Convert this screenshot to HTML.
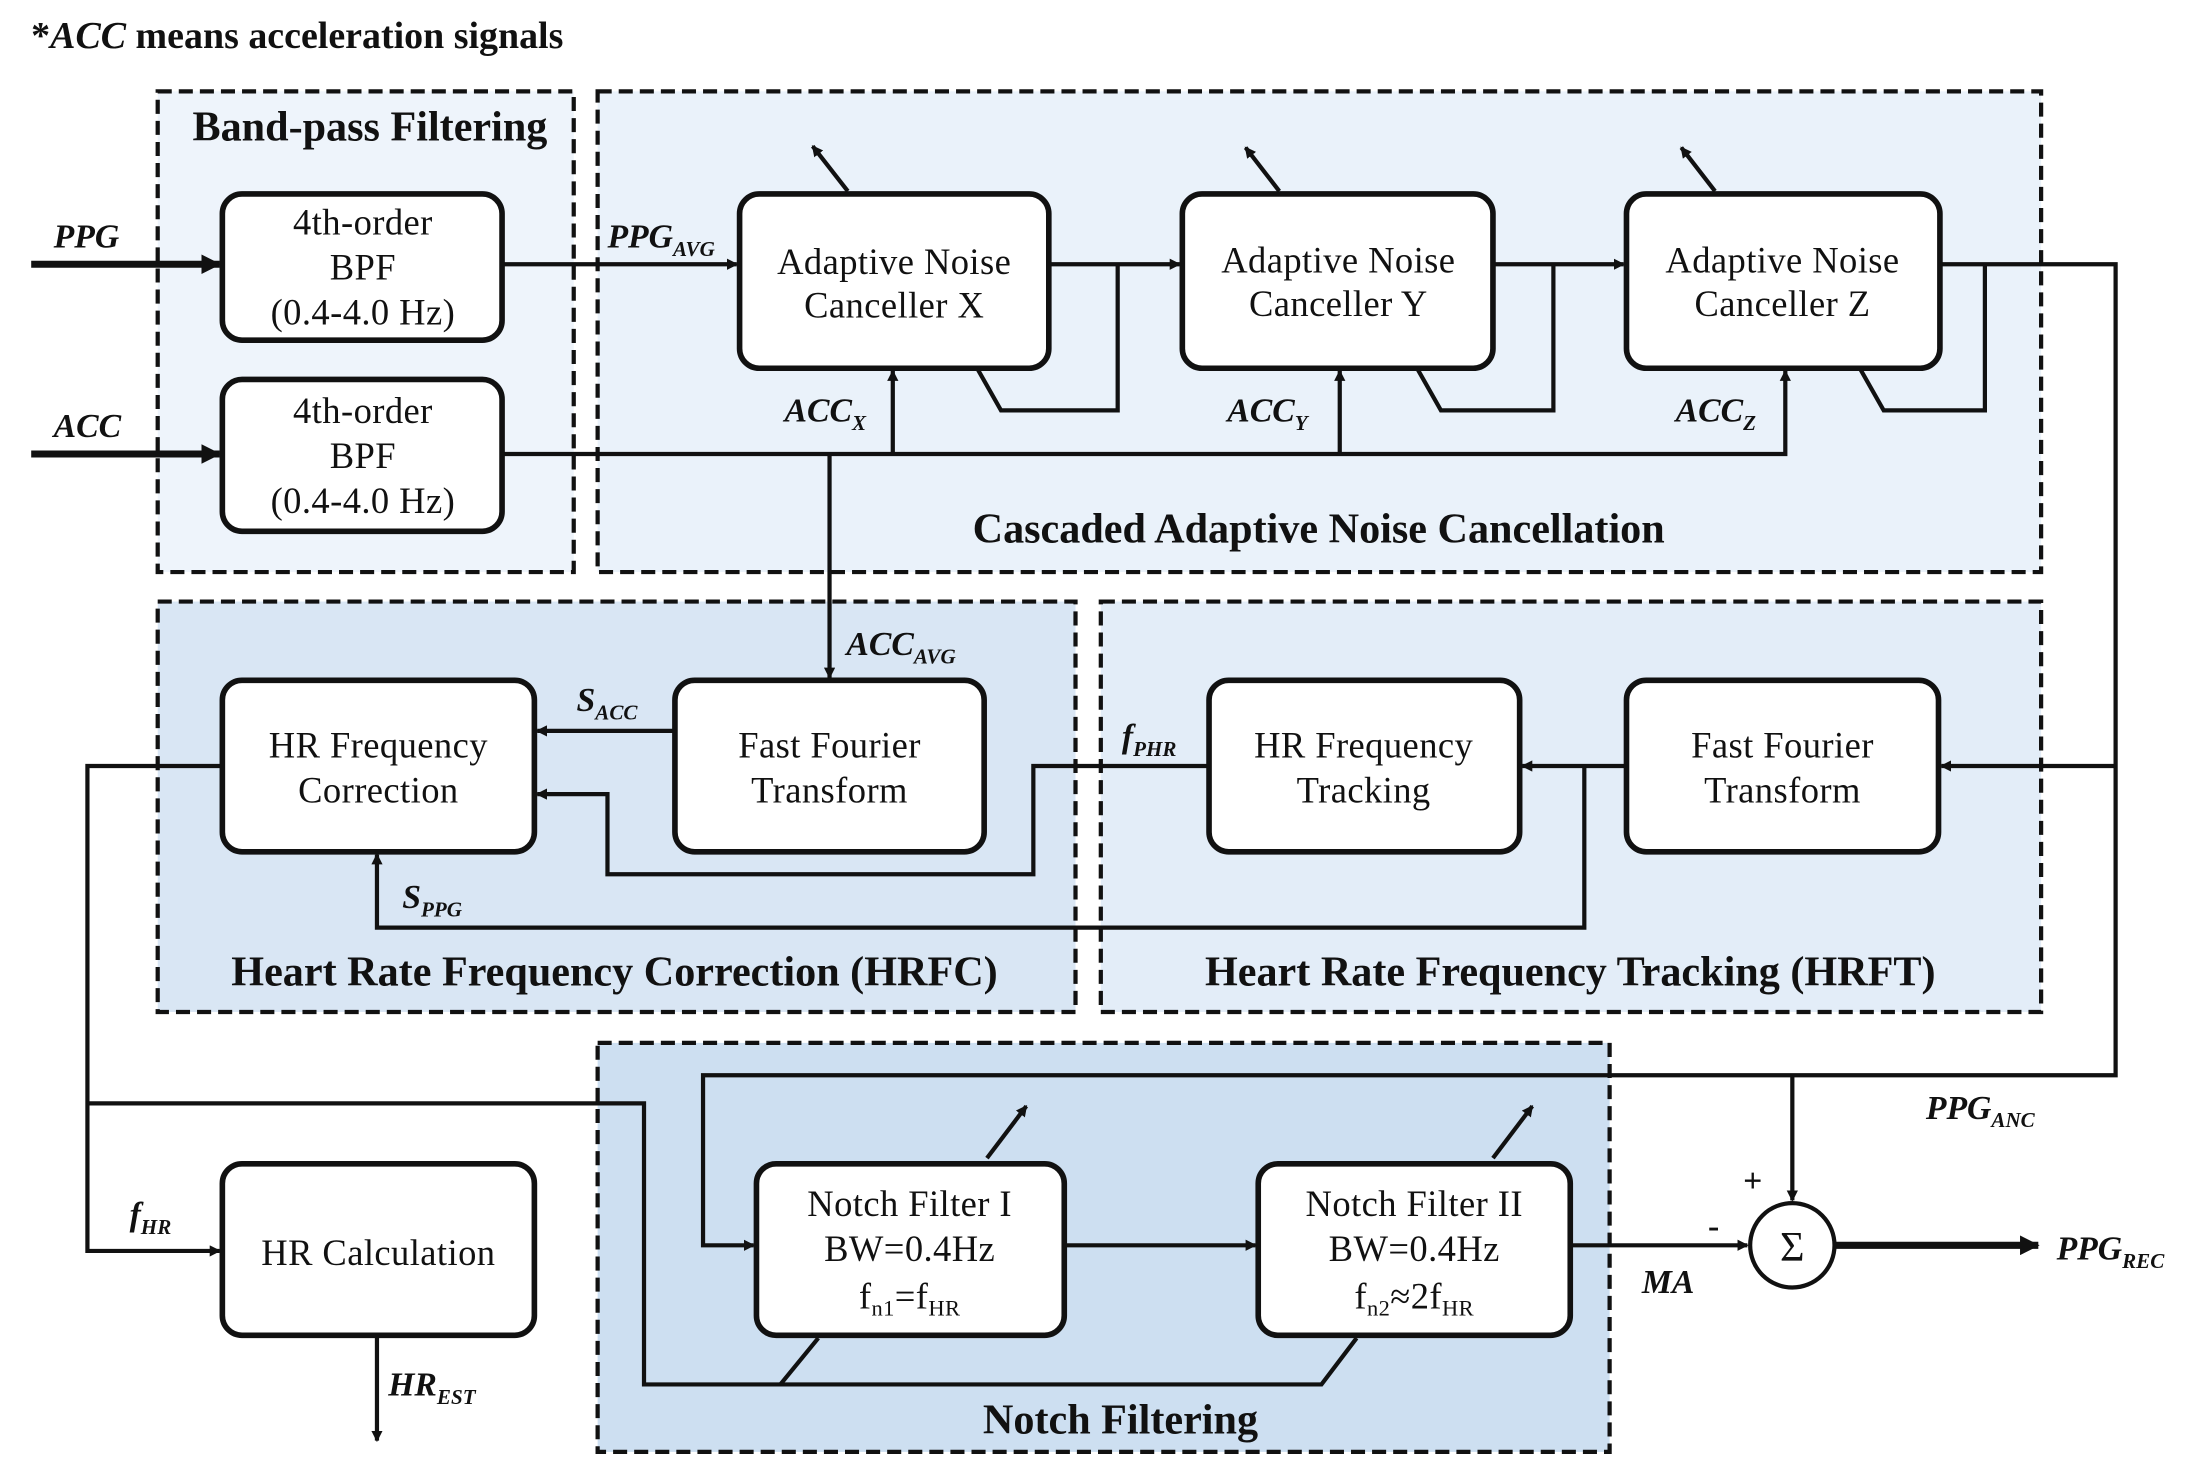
<!DOCTYPE html>
<html><head><meta charset="utf-8"><style>
html,body{margin:0;padding:0;background:#fff;}
svg{display:block;}
text{font-family:"Liberation Serif",serif;fill:#111;}
.b{font-weight:bold;}
.t{font-size:26px;fill:#333;letter-spacing:0.3px;}
.lab{font-weight:bold;font-style:italic;font-size:24px;}
.sub{font-size:15px;}
.t .sub{font-size:16px;}
</style></head><body>
<svg width="2196" height="1473" viewBox="0 0 1562 1048" xmlns="http://www.w3.org/2000/svg">
<defs>
<marker id="a" markerWidth="8" markerHeight="8" refX="7" refY="4" orient="auto" markerUnits="userSpaceOnUse" viewBox="0 0 8 8"><path d="M0,0 L8,4 L0,8 z" fill="#111"/></marker>
<marker id="A" markerWidth="14" markerHeight="14" refX="13" refY="7" orient="auto" markerUnits="userSpaceOnUse" viewBox="0 0 14 14"><path d="M0,0 L14,7 L0,14 z" fill="#111"/></marker>
</defs>
<style>.ln{stroke:#111;stroke-width:3;fill:none}.bx{stroke:#111;stroke-width:4;fill:#fff}.dz{stroke:#111;stroke-width:3;stroke-dasharray:10,5}</style>
<text x="22" y="34" class="b" style="font-size:27px">*<tspan font-style="italic">ACC</tspan> means acceleration signals</text>
<rect x="112" y="65" width="296" height="342" fill="#eef4fb" class="dz"/>
<rect x="425" y="65" width="1027" height="342" fill="#eaf2fa" class="dz"/>
<rect x="112" y="428" width="653" height="292" fill="#d9e6f4" class="dz"/>
<rect x="783" y="428" width="669" height="292" fill="#e3edf8" class="dz"/>
<rect x="425" y="742" width="720" height="291" fill="#cddff1" class="dz"/>
<text x="263" y="100" text-anchor="middle" class="b" style="font-size:30px">Band-pass Filtering</text>
<text x="938" y="386" text-anchor="middle" class="b" style="font-size:30px">Cascaded Adaptive Noise Cancellation</text>
<text x="437" y="701" text-anchor="middle" class="b" style="font-size:30px">Heart Rate Frequency Correction (HRFC)</text>
<text x="1117" y="701" text-anchor="middle" class="b" style="font-size:30px">Heart Rate Frequency Tracking (HRFT)</text>
<text x="797" y="1020" text-anchor="middle" class="b" style="font-size:30px">Notch Filtering</text>
<g class="ln">
<line x1="22" y1="188" x2="156" y2="188" stroke-width="5" marker-end="url(#A)"/>
<line x1="22" y1="323" x2="156" y2="323" stroke-width="5" marker-end="url(#A)"/>
<line x1="357" y1="188" x2="524" y2="188" marker-end="url(#a)"/>
<line x1="746" y1="188" x2="839" y2="188" marker-end="url(#a)"/>
<line x1="1062" y1="188" x2="1155" y2="188" marker-end="url(#a)"/>
<polyline points="795,188 795,292 712,292 695,262"/>
<polyline points="1105,188 1105,292 1025,292 1008,262"/>
<polyline points="1380,188 1505,188 1505,765 500,765 500,886 536,886" marker-end="url(#a)"/>
<polyline points="1412,188 1412,292 1340,292 1323,262"/>
<polyline points="357,323 1270,323 1270,264" marker-end="url(#a)"/>
<line x1="635" y1="323" x2="635" y2="264" marker-end="url(#a)"/>
<line x1="953" y1="323" x2="953" y2="264" marker-end="url(#a)"/>
<line x1="590" y1="323" x2="590" y2="482" marker-end="url(#a)"/>
<line x1="603" y1="136" x2="578" y2="104" marker-end="url(#a)"/>
<line x1="910" y1="136" x2="886" y2="105" marker-end="url(#a)"/>
<line x1="1220" y1="136" x2="1196" y2="105" marker-end="url(#a)"/>
<line x1="480" y1="520" x2="382" y2="520" marker-end="url(#a)"/>
<polyline points="860,545 735,545 735,622 432,622 432,565 382,565" marker-end="url(#a)"/>
<polyline points="1505,545 1381,545" marker-end="url(#a)"/>
<line x1="1157" y1="545" x2="1083" y2="545" marker-end="url(#a)"/>
<polyline points="1127,545 1127,660 268,660 268,608" marker-end="url(#a)"/>
<polyline points="158,545 62,545 62,890 156,890" marker-end="url(#a)"/>
<polyline points="62,785 458,785 458,985 940,985 965,952"/>
<line x1="555" y1="985" x2="582" y2="952"/>
<line x1="757" y1="886" x2="893" y2="886" marker-end="url(#a)"/>
<line x1="1117" y1="886" x2="1243" y2="886" marker-end="url(#a)"/>
<line x1="1275" y1="765" x2="1275" y2="854" marker-end="url(#a)"/>
<line x1="1305" y1="886" x2="1450" y2="886" stroke-width="5" marker-end="url(#A)"/>
<line x1="268" y1="950" x2="268" y2="1025" marker-end="url(#a)"/>
<line x1="702" y1="824" x2="730" y2="787" marker-end="url(#a)"/>
<line x1="1062" y1="824" x2="1090" y2="787" marker-end="url(#a)"/>
</g>
<rect x="158" y="138" width="199" height="104" rx="14" class="bx"/>
<rect x="158" y="270" width="199" height="108" rx="14" class="bx"/>
<rect x="526" y="138" width="220" height="124" rx="14" class="bx"/>
<rect x="841" y="138" width="221" height="124" rx="14" class="bx"/>
<rect x="1157" y="138" width="223" height="124" rx="14" class="bx"/>
<rect x="158" y="484" width="222" height="122" rx="14" class="bx"/>
<rect x="480" y="484" width="220" height="122" rx="14" class="bx"/>
<rect x="860" y="484" width="221" height="122" rx="14" class="bx"/>
<rect x="1157" y="484" width="222" height="122" rx="14" class="bx"/>
<rect x="158" y="828" width="222" height="122" rx="14" class="bx"/>
<rect x="538" y="828" width="219" height="122" rx="14" class="bx"/>
<rect x="895" y="828" width="222" height="122" rx="14" class="bx"/>
<circle cx="1275" cy="886" r="30" stroke="#111" stroke-width="3" fill="#fff"/>
<text x="1275" y="897" text-anchor="middle" style="font-size:30px">Σ</text>
<g class="t" text-anchor="middle">
<text x="258" y="167">4th-order</text><text x="258" y="199">BPF</text><text x="258" y="231">(0.4-4.0 Hz)</text>
<text x="258" y="301">4th-order</text><text x="258" y="333">BPF</text><text x="258" y="365">(0.4-4.0 Hz)</text>
<text x="636" y="195">Adaptive Noise</text><text x="636" y="226">Canceller X</text>
<text x="952" y="194">Adaptive Noise</text><text x="952" y="225">Canceller Y</text>
<text x="1268" y="194">Adaptive Noise</text><text x="1268" y="225">Canceller Z</text>
<text x="269" y="539">HR Frequency</text><text x="269" y="571">Correction</text>
<text x="590" y="539">Fast Fourier</text><text x="590" y="571">Transform</text>
<text x="970" y="539">HR Frequency</text><text x="970" y="571">Tracking</text>
<text x="1268" y="539">Fast Fourier</text><text x="1268" y="571">Transform</text>
<text x="269" y="900">HR Calculation</text>
<text x="647" y="865">Notch Filter I</text><text x="647" y="897">BW=0.4Hz</text><text x="647" y="931">f<tspan class="sub" dy="5">n1</tspan><tspan dy="-5">=f</tspan><tspan class="sub" dy="5">HR</tspan></text>
<text x="1006" y="865">Notch Filter II</text><text x="1006" y="897">BW=0.4Hz</text><text x="1006" y="931">f<tspan class="sub" dy="5">n2</tspan><tspan dy="-5">≈2f</tspan><tspan class="sub" dy="5">HR</tspan></text>
</g>
<text x="38" y="176" class="lab">PPG</text>
<text x="38" y="311" class="lab">ACC</text>
<text x="432" y="176" class="lab">PPG<tspan class="sub" dy="6">AVG</tspan></text>
<text x="558" y="300" class="lab">ACC<tspan class="sub" dy="6">X</tspan></text>
<text x="873" y="300" class="lab">ACC<tspan class="sub" dy="6">Y</tspan></text>
<text x="1192" y="300" class="lab">ACC<tspan class="sub" dy="6">Z</tspan></text>
<text x="602" y="466" class="lab">ACC<tspan class="sub" dy="6">AVG</tspan></text>
<text x="410" y="506" class="lab">S<tspan class="sub" dy="6">ACC</tspan></text>
<text x="798" y="532" class="lab">f<tspan class="sub" dy="6">PHR</tspan></text>
<text x="286" y="646" class="lab">S<tspan class="sub" dy="6">PPG</tspan></text>
<text x="92" y="872" class="lab">f<tspan class="sub" dy="6">HR</tspan></text>
<text x="276" y="993" class="lab">HR<tspan class="sub" dy="6">EST</tspan></text>
<text x="1370" y="796" class="lab">PPG<tspan class="sub" dy="6">ANC</tspan></text>
<text x="1463" y="896" class="lab">PPG<tspan class="sub" dy="6">REC</tspan></text>
<text x="1168" y="920" class="lab">MA</text>
<text x="1240" y="848" class="b" style="font-size:24px">+</text>
<text x="1215" y="880" class="b" style="font-size:24px">-</text>
</svg>
</body></html>
